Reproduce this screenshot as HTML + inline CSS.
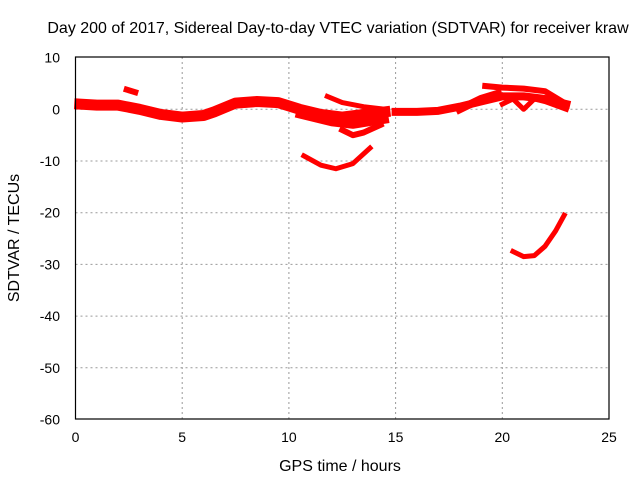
<!DOCTYPE html>
<html><head><meta charset="utf-8"><style>
body{margin:0;background:#fff}
text{font-family:"Liberation Sans",sans-serif;font-size:14px;fill:#000}
.big{font-size:16px}
</style></head><body>
<svg width="640" height="480">
<text class="big" x="338" y="33" text-anchor="middle">Day 200 of 2017, Sidereal Day-to-day VTEC variation (SDTVAR) for receiver kraw</text>
<g id="grid"></g>
<g id="ticks"></g>
<g id="series"></g>
<rect x="75.5" y="57" width="533.5" height="362" fill="none" stroke="#000" stroke-width="1.2"/>
<text class="big" x="340" y="471" text-anchor="middle">GPS time / hours</text>
<text class="big" transform="translate(19,238) rotate(-90)" text-anchor="middle">SDTVAR / TECUs</text>
</svg>
<script>
const xTicks=[0,5,10,15,20,25];
const yTicks=[10,0,-10,-20,-30,-40,-50,-60];
const trackMainT=[0.2,1,2,3,4,5,6,6.5,7.5,8.5,9.5,10.5,11.5,12.5,13.5,14.5];
const trackMainV=[1,0.8,0.8,0,-1,-1.5,-1.2,-0.5,1.2,1.5,1.3,0,-1,-1.5,-1,-0.5];
const blobT=[2.4,2.8];const blobV=[3.8,3.3];
const arcBT=[11.8,12.5,13.5,14.5];const arcBV=[2.5,1.3,0.5,0];
const arcCT=[10.5,12,13,14.5];const arcCV=[-1,-2.5,-3,-2];
const arcDT=[12.5,13,13.5,14.3];const arcDV=[-4,-5,-4.5,-3];
const arcET=[10.7,11.5,12.2,13,13.8];const arcEV=[-9,-10.8,-11.5,-10.5,-7.5];
const arcFT=[15,16,17,18,19,20,21,22,23];const arcFV=[-0.5,-0.5,-0.3,0.5,1.5,2.5,2.5,2,1];
const arcGT=[19.2,20,21,22,22.8];const arcGV=[4.5,4.2,4,3.5,1.5];
const arcHT=[20,20.5,21,21.5,22,23];const arcHV=[1,2,0,2,1.5,0];
const arcIT=[18,19,19.8];const arcIV=[0,2,3];
const arcJT=[20.5,21,21.5,22,22.5,22.9];const arcJV=[-27.5,-28.5,-28.3,-26.5,-23.5,-20.5];
const NS="http://www.w3.org/2000/svg";
const X=t=>75.5+t*21.34, Y=v=>109.3-v*5.17;
function mk(tag,a,p){const e=document.createElementNS(NS,tag);for(const k in a)e.setAttribute(k,a[k]);p.appendChild(e);return e;}
const g=document.getElementById('grid'),tk=document.getElementById('ticks'),s=document.getElementById('series');
xTicks.forEach(t=>{
 if(t>0&&t<25){const l=mk('line',{x1:X(t),x2:X(t),y1:57,y2:419,stroke:'#999','stroke-dasharray':'2,3'},g);
 
 }
 const tx=mk('text',{x:X(t),y:442,'text-anchor':'middle'},tk);tx.textContent=t;
 
 
});
yTicks.forEach(v=>{
 if(v<10&&v>-60){const l=mk('line',{x1:75.5,x2:609,y1:Y(v),y2:Y(v),stroke:'#999','stroke-dasharray':'2,3'},g);
 
 }
 const tx=mk('text',{x:60,y:Y(v)+5,'text-anchor':'end'},tk);tx.textContent=v;
 
 
});
const tracks=[[trackMainT,trackMainV,11],[blobT,blobV,6],[arcBT,arcBV,5],[arcCT,arcCV,8],[arcDT,arcDV,6],[arcET,arcEV,5],[arcFT,arcFV,8],[arcGT,arcGV,6],[arcHT,arcHV,5],[arcIT,arcIV,8],[arcJT,arcJV,5]];
tracks.forEach(([T,V,w])=>{
 const p=mk('polyline',{points:T.map((t,i)=>X(t)+','+Y(V[i])).join(' '),fill:'none',stroke:'#f00','stroke-width':w,'stroke-linejoin':'round','stroke-linecap':'square'},s);
 
 
});
</script>
</body></html>
